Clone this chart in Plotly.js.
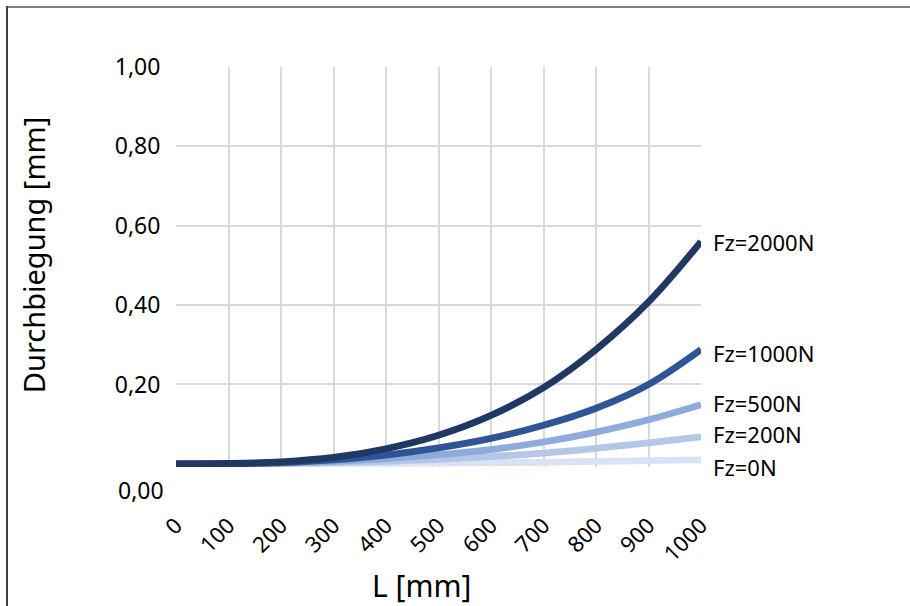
<!DOCTYPE html>
<html>
<head>
<meta charset="utf-8">
<script src="https://cdn.plot.ly/plotly-3.0.1.min.js"></script>
<style>
  html, body { margin: 0; padding: 0; background: #fff; }
  #wrap { position: relative; width: 910px; height: 606px; overflow: hidden; }
  #chart { width: 910px; height: 606px; }
  #bt { position: absolute; left: 6px; top: 6px; width: 904px; height: 0; border-top: 2px solid #7f7f7f; pointer-events: none; }
  #bl { position: absolute; left: 6px; top: 6px; width: 0; height: 600px; border-left: 2px solid #404040; pointer-events: none; }
</style>
</head>
<body>
<div id="wrap">
  <div id="chart"></div>
  <div id="bt"></div>
  <div id="bl"></div>
</div>
<script>
// Data
const L = [0, 100, 200, 300, 400, 500, 600, 700, 800, 900, 1000];
const xTickText = ["0", "100", "200", "300", "400", "500", "600", "700", "800", "900", "1000"];
const seriesNames = ["Fz=0N", "Fz=200N", "Fz=500N", "Fz=1000N", "Fz=2000N"];
const fz0    = [0, 0.000, 0.000, 0.001, 0.001, 0.002, 0.003, 0.004, 0.006, 0.008, 0.010];
const fz200  = [0, 0.000, 0.001, 0.003, 0.006, 0.011, 0.018, 0.027, 0.039, 0.053, 0.068];
const fz500  = [0, 0.000, 0.002, 0.006, 0.013, 0.023, 0.036, 0.055, 0.080, 0.111, 0.149];
const fz1000 = [0, 0.000, 0.003, 0.010, 0.022, 0.040, 0.064, 0.097, 0.140, 0.200, 0.288];
const fz2000 = [0, 0.001, 0.005, 0.016, 0.038, 0.072, 0.122, 0.192, 0.288, 0.408, 0.560];
const yTickVals = [0, 0.2, 0.4, 0.6, 0.8, 1.0];
const yTickText = ["0,00", "0,20", "0,40", "0,60", "0,80", "1,00"];

const colors = ["#dae3f3", "#b4c7e7", "#8faadc", "#2f5597", "#1f3864"];
const allY = [fz0, fz200, fz500, fz1000, fz2000];
const labelShift = [-7, 3, 2, -3, 0];
const FONT = "Noto Sans, Open Sans, sans-serif";

const traces = allY.map((ys, i) => ({
  type: "scatter",
  mode: "lines",
  x: L,
  y: ys,
  name: seriesNames[i],
  line: { color: colors[i], width: 6.8, shape: "spline", smoothing: 1 },
  hoverinfo: "x+y+name"
}));

const annotations = allY.map((ys, i) => ({
  x: L[L.length - 1],
  y: ys[ys.length - 1],
  xref: "x", yref: "y",
  text: seriesNames[i],
  showarrow: false,
  xanchor: "left", yanchor: "middle",
  xshift: 11, yshift: labelShift[i],
  borderpad: 0,
  font: { family: FONT, size: 22, color: "#000" }
}));

annotations.push({
  x: -0.02, y: -0.058, xref: "paper", yref: "paper",
  text: yTickText[0], showarrow: false, xanchor: "right", yanchor: "middle",
  font: { family: FONT, size: 23, color: "#000" }
});
annotations.push({
  x: -0.272, y: 0.53, xref: "paper", yref: "paper",
  text: "Durchbiegung [mm]", showarrow: false, textangle: -90,
  xanchor: "center", yanchor: "middle",
  font: { family: FONT, size: 29, color: "#000" }
});
annotations.push({
  x: 0.467, y: -0.295, xref: "paper", yref: "paper",
  text: "L [mm]", showarrow: false, xanchor: "center", yanchor: "middle",
  font: { family: FONT, size: 30, color: "#000" }
});

const layout = {
  width: 910, height: 606,
  margin: { l: 176, r: 209, t: 67, b: 139 },
  paper_bgcolor: "#fff", plot_bgcolor: "#fff",
  separators: ",.",
  showlegend: false,
  font: { family: FONT, color: "#000" },
  xaxis: {
    range: [0, 1000],
    tickmode: "array", tickvals: L, ticktext: xTickText,
    tickangle: -45,
    ticks: "outside", ticklen: 36, tickcolor: "rgba(0,0,0,0)",
    tickfont: { family: FONT, size: 22, color: "#000" },
    showgrid: true, gridcolor: "#d9d9d9", gridwidth: 2,
    zeroline: false, showline: false
  },
  yaxis: {
    range: [-0.008, 1.0],
    tickmode: "array", tickvals: yTickVals.slice(1), ticktext: yTickText.slice(1),
    ticks: "outside", ticklen: 10, tickcolor: "rgba(0,0,0,0)",
    tickfont: { family: FONT, size: 23, color: "#000" },
    showgrid: true, gridcolor: "#d9d9d9", gridwidth: 2,
    zeroline: false, showline: false
  },
  annotations: annotations
};

Plotly.newPlot("chart", traces, layout, { displayModeBar: false, staticPlot: true });
</script>
</body>
</html>
